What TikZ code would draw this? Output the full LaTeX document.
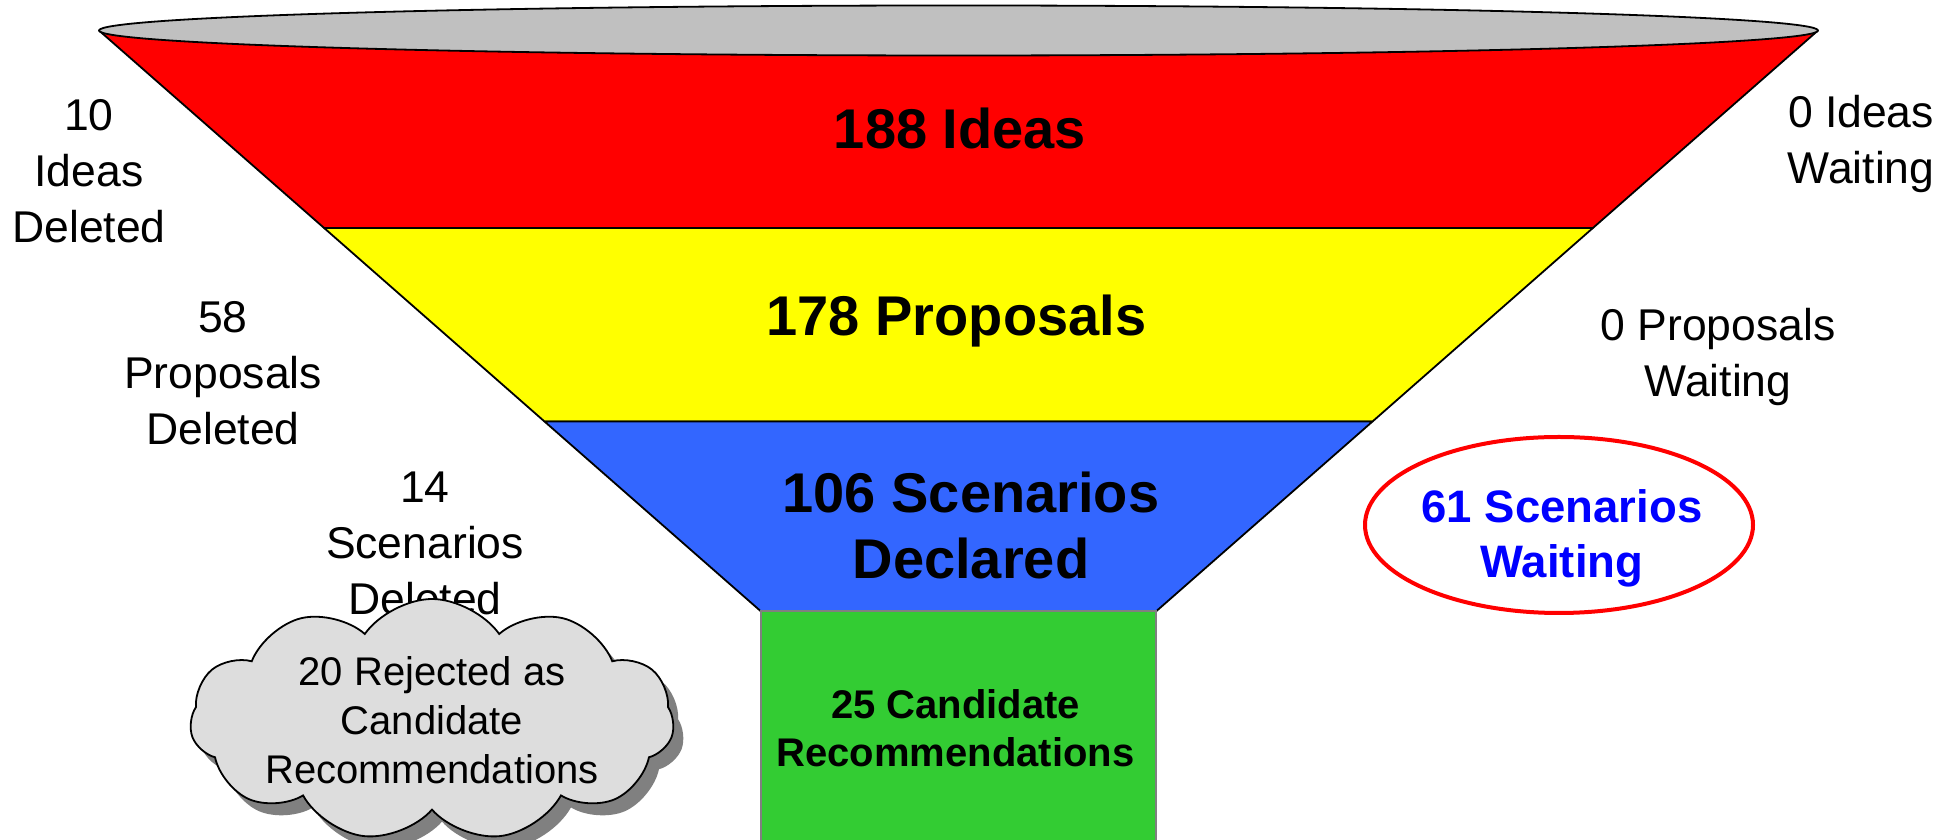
\documentclass[tikz,border=0pt]{standalone}
\usepackage{fontspec}
\setmainfont{Liberation Sans}
\usetikzlibrary{shapes.symbols,shadows}

\begin{document}
\begin{tikzpicture}[x=1pt,y=1pt,
  band/.style={draw=black,line width=1.8pt,line join=round},
  bandlabel/.style={inner sep=0pt,outer sep=0pt,align=center,font=\fontsize{56}{66}\selectfont\bfseries},
  sidelabel/.style={inner sep=0pt,outer sep=0pt,align=center,font=\fontsize{44.5}{56}\selectfont}]
\definecolor{redFill}{RGB}{255,0,0}
\definecolor{yellowFill}{RGB}{255,255,0}
\definecolor{blueFill}{RGB}{51,102,255}
\definecolor{greenFill}{RGB}{51,204,51}
\definecolor{rimFill}{RGB}{192,192,192}
\definecolor{cloudFill}{RGB}{221,221,221}
\definecolor{shadowFill}{RGB}{128,128,128}
\definecolor{waitColor}{RGB}{0,0,255}
\path[use as bounding box,fill=white] (0,0) rectangle (1944,840);

% funnel bands
\path[band,fill=redFill] (99,809.5) -- (324.1,612) -- (1592.9,612) -- (1818,809.5) -- cycle;
\path[band,fill=yellowFill] (324.1,612) -- (544.5,418.5) -- (1372.5,418.5) -- (1592.9,612) -- cycle;
\path[band,fill=blueFill] (544.5,418.5) -- (760.5,229) -- (1156.5,229) -- (1372.5,418.5) -- cycle;
\path[draw=shadowFill,line width=1.8pt,fill=greenFill] (761,-2) rectangle (1156,229);
\path[band,fill=rimFill] (958.5,809.5) ellipse [x radius=859.5,y radius=25];

\node[bandlabel,anchor=base] (ideas) at (960,691) {188 Ideas};
\node[bandlabel,anchor=base] (proposals) at (956.5,504) {178 Proposals};
\node[bandlabel] (scenarios) at (971,315) {106 Scenarios\\Declared};
\node[inner sep=0pt,align=center,font=\fontsize{40}{48}\selectfont\bfseries] (candidates) at (955.5,111.3) {25 Candidate\\Recommendations};

% left side
\node[sidelabel] (ideasdel) at (89,668.4) {10\\Ideas\\Deleted};
\node[sidelabel] (propdel) at (223,467) {58\\Proposals\\Deleted};
\node[sidelabel] (scendel) at (425,297) {14\\Scenarios\\Deleted};

% right side
\node[sidelabel] (ideaswait) at (1861,696.3) {0 Ideas\\Waiting};
\node[sidelabel] (propwait) at (1718,483.3) {0 Proposals\\Waiting};

\path[draw=redFill,line width=4pt] (1559,315) ellipse [x radius=194,y radius=88];
\node[inner sep=0pt,align=center,text=waitColor,font=\fontsize{45.5}{55}\selectfont\bfseries] (scenwait) at (1562,302) {61 Scenarios\\Waiting};

\node[cloud,cloud puffs=11,cloud puff arc=110,cloud ignores aspect,
  minimum width=484,minimum height=219,inner sep=0pt,
  draw=black,line width=1.8pt,fill=cloudFill,
  drop shadow={shadow xshift=10pt,shadow yshift=-12pt,fill=shadowFill,opacity=1},
  align=center,font=\fontsize{40}{49}\selectfont] (rejected) at (432,120)
  {20 Rejected as\\Candidate\\Recommendations};
\end{tikzpicture}
\end{document}
